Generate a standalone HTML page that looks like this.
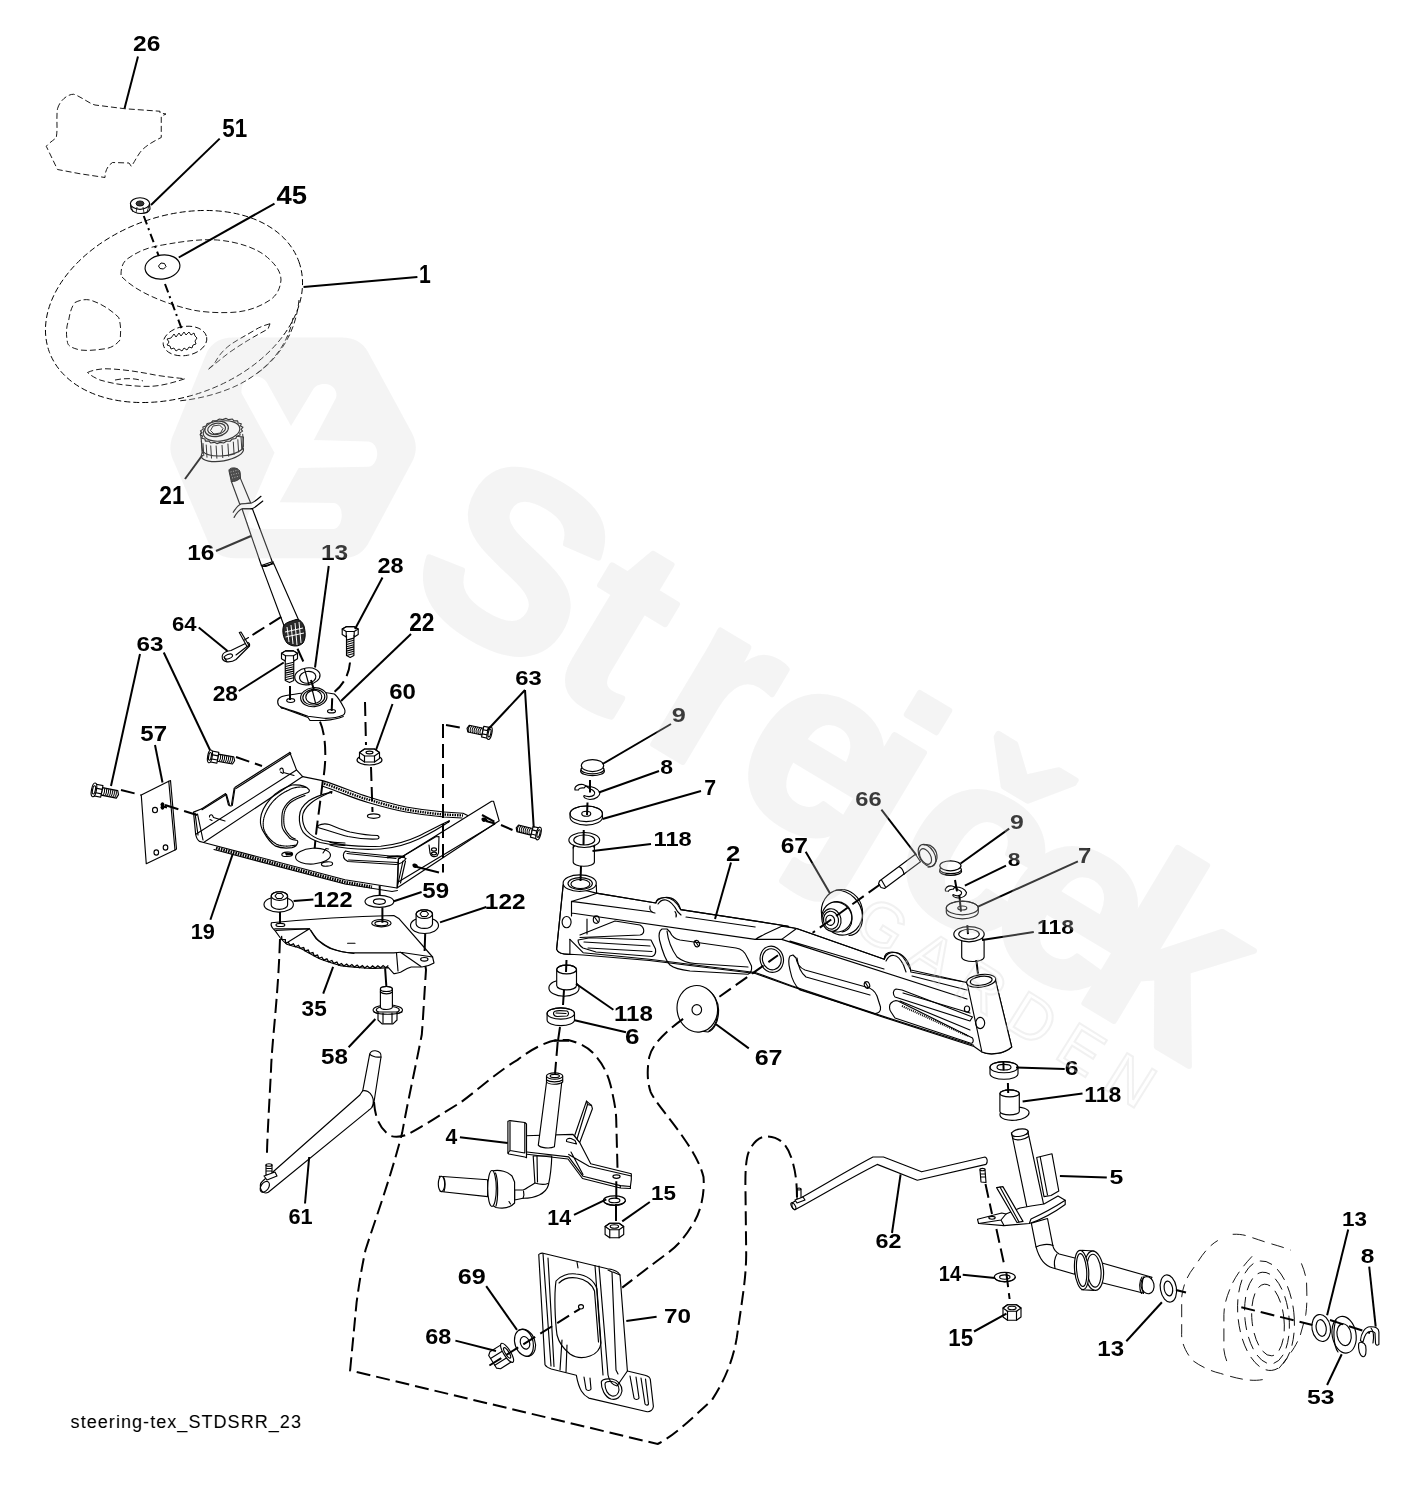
<!DOCTYPE html>
<html><head><meta charset="utf-8"><title>steering-tex_STDSRR_23</title>
<style>
html,body{margin:0;padding:0;background:#fff;}
body{width:1420px;height:1487px;overflow:hidden;}
svg{display:block;filter:grayscale(1);}
.p{fill:none;stroke:#000;stroke-width:1.15;stroke-linejoin:round;stroke-linecap:round;}
.pf{fill:#fff;stroke:#000;stroke-width:1.15;stroke-linejoin:round;stroke-linecap:round;}
.th{fill:none;stroke:#000;stroke-width:0.9;stroke-dasharray:6 3;}
.th2{fill:none;stroke:#000;stroke-width:0.9;stroke-dasharray:13 7;}
.d{fill:none;stroke:#000;stroke-width:2;stroke-dasharray:14 6;}
.l{fill:none;stroke:#000;stroke-width:2;stroke-linecap:butt;}
.lab text{font-family:"Liberation Sans",sans-serif;font-weight:bold;fill:#000;}
</style></head>
<body>
<svg width="1420" height="1487" viewBox="0 0 1420 1487">
<rect width="1420" height="1487" fill="#fff"/>
<g id="parts">
<!-- part 26 decal -->
<path class="th" d="M57.5,108.75 C60,100 68,94 73.75,94.25 C82,97 88,103 95,105 L125,108.75 L160,111.25 L160,113 L166,114 L161.25,116.25 L161.25,137.5 C152,142 144,147 140,152.5 C136,158 134,163 131.25,166.25 L129,163 L112.5,162.5 C107,166 105,172 105,177.5 L80,173.75 L57.5,169.5 L46.25,146.25 C50,142 54,140 56.25,137.5 C58,128 56,118 57.5,108.75 Z"/>
<!-- steering wheel outer -->
<ellipse class="th" cx="174" cy="306.5" rx="132.7" ry="90.2" transform="rotate(-19.8 174 306.5)"/>
<path class="th" d="M293,318 C288,345 270,368 240,384 C222,393 200,399 178,401"/>
<path class="th" d="M299,300 C296,330 282,356 255,375"/>
<!-- hub area -->
<path class="th" d="M121,275 C121,267 123,262 127.5,258.75 C140,250 150,247 162.5,245 C185,241 200,239 217.5,240 C240,242 258,249 267.5,257.5 C276,265 281,272 281,280 C280,290 276,296 270,300 C258,308 245,312 230,312.5 C215,313 203,312 192.5,310 C180,307 170,304 160,300 C145,294 132,287 122,277"/>
<!-- left opening -->
<path class="th" d="M75,302.5 C80,300 85,299 90,300 C100,303 110,309 118.75,317.5 C121,325 121,333 120,340 C116,345 111,348 105,348.75 C96,350 88,351 80,350 C72,348 68,346 67.5,342.5 C66,335 66,327 68.75,320 C70,312 72,306 75,302.5 Z"/>
<!-- bottom opening -->
<path class="th" d="M87.5,372.5 C93,370 99,369 105,368.75 C122,369 140,372 155,375 C167,377 178,378 185,378.75 C175,382 165,385 155,386 C145,387 135,386 125,385 C115,384 107,382 100,380 C95,378 90,375 87.5,372.5 Z"/>
<path class="th" d="M115,380 C125,378 135,378 143,381"/>
<!-- right opening -->
<path class="th" d="M270,323.75 C262,326 258,328 255,330 C245,336 237,340 230,345 C222,351 218,357 215,362.5 C212,366 210,368 207.5,370 C215,364 222,358 230,352 C243,343 255,336 268,329 Z"/>
<!-- center spline hub -->
<ellipse class="th" cx="185" cy="341" rx="22" ry="14.5" transform="rotate(-10 185 341)"/>
<path fill="none" stroke="#000" stroke-width="0.9" d="M171,338 l3,-4 l2,3 l3,-4 l2,3 l3,-4 l2,3 l3,-3 l2,3 l3,-2 l1,3 l2,2 l-2,3 l1,3 l-3,1 l-1,3 l-3,-1 l-2,3 l-3,-2 l-2,3 l-3,-2 l-3,2 l-2,-3 l-3,1 l-1,-3 l-3,-1 l2,-3 l-2,-3 z"/>
<!-- washer 45 -->
<ellipse class="pf" cx="162.5" cy="267" rx="17.5" ry="12" transform="rotate(-8 162.5 267)"/>
<path fill="none" stroke="#000" stroke-width="1" d="M158.5,266 l2.5,-3 l3.5,0.5 l1.5,3 l-2.5,2.5 l-3.5,-0.5 z"/>
<!-- nut 51 -->
<path class="pf" d="M130.5,203.5 L131,209 C133,212 137,213.5 141,213.5 C145,213.5 149,212 150,209 L149.5,203.5 Z"/>
<ellipse class="pf" cx="140" cy="203.5" rx="9.6" ry="5.8"/>
<path fill="none" stroke="#000" stroke-width="0.8" d="M131,206 L133,212 M149,206 L147,212 M136,213 L137,207 M144,213 L143,207"/>
<ellipse cx="140" cy="203.5" rx="4" ry="2.6" fill="#333" stroke="#000" stroke-width="0.8"/>
<!-- part 21 knurled cap -->
<ellipse class="pf" cx="222.4" cy="452.6" rx="21.4" ry="8.4" transform="rotate(-10 222.4 452.6)" />
<path class="pf" d="M200.5,433 L202.5,451 C208,458 232,458 242.5,449 L243.5,437 Z"/>
<path fill="none" stroke="#000" stroke-width="1" d="M201.3,440.9 L202.1,453.9 M203.0,443.1 L203.8,456.1 M206.2,444.6 L207.0,457.6 M210.7,445.5 L211.5,458.5 M216.1,445.6 L216.9,458.6 M222.0,445.0 L222.8,458.0 M227.9,443.6 L228.7,456.6 M233.3,441.7 L234.1,454.7 M237.8,439.3 L238.6,452.3 M241.0,436.6 L241.8,449.6 M242.7,433.9 L243.5,446.9 "/>
<path class="pf" stroke-width="1.1" d="M242.97,427.21 L241.1,429.31 L242.57,431.11 L239.78,432.89 L240.11,435 L236.68,436.3 L235.83,438.49 L232.09,439.18 L230.15,441.26 L226.46,441.26 L223.62,443.01 L220.35,442.34 L216.88,443.6 L214.35,442.31 L210.59,442.95 L209.05,441.17 L205.38,441.12 L204.97,439.03 L201.74,438.31 L202.51,436.11 L200.03,434.79 L201.9,432.69 L200.43,430.89 L203.22,429.11 L202.89,427 L206.32,425.7 L207.17,423.51 L210.91,422.82 L212.85,420.74 L216.54,420.74 L219.38,418.99 L222.65,419.66 L226.12,418.4 L228.65,419.69 L232.41,419.05 L233.95,420.83 L237.62,420.88 L238.03,422.97 L241.26,423.69 L240.49,425.89 Z" />
<ellipse class="p" cx="221.5" cy="431" rx="18.5" ry="9.8" transform="rotate(-10 221.5 431)" />
<ellipse class="pf" cx="216.6" cy="428.9" rx="11.9" ry="7.6" transform="rotate(-10 216.6 428.9)" />
<ellipse class="p" cx="216.6" cy="428.9" rx="9" ry="5.6" transform="rotate(-10 216.6 428.9)" />
<path fill="none" stroke="#000" stroke-width="1" d="M210.5,430.5 l2.5,-4.5 l6.5,-1 l3.5,3.5 l-2.5,4.5 l-6.5,1 z"/>
<path class="pf" d="M231.3,481.2 L239.8,504.3 L250.6,502.8 L240.2,477.9 Z"/>
<path class="pf" d="M242.1,509 L261.4,565.5 L272.3,561.7 L252.5,509 Z"/>
<path class="pf" d="M261.9,566.4 L284.5,627 L299.5,622 L273.7,563.6 Z"/>
<path class="p" d="M261.4,565.5 C264,567.5 269,566.5 273.5,562"/>
<path d="M229,471 C228.5,468.5 232,467.5 235,468 C238,468.5 240,470 240.2,473 L240.5,478 C238,480.5 234,482 231.3,481.5 Z" fill="#1a1a1a" stroke="#000" stroke-width="1"/>
<path fill="none" stroke="#fff" stroke-width="0.6" stroke-dasharray="1 1.5" d="M230.5,472 L238.5,470 M231,475 L239,473 M232,478 L239.5,476"/>
<path fill="#fff" stroke="none" d="M233.2,512.3 C236,508 238,505 241,504 L251,503.3 C254,502 258,499 261,496.3 L262.8,501 C259,504 256,507 252.5,508.5 L242.6,508.5 C239,510 236,514 234.1,517.4 Z"/>
<path class="p" d="M233.2,512.3 C236,508 238,505 241,504 L251,503.3 C254,502 258,499 261,496.3 M234.1,517.4 C236,514 239,510 242.6,508.5 L252.5,508.5 C256,507 259,504 262.8,501"/>
<path d="M283.5,626 C282,631 283,638 287,643 C292,647 299,647 303,643 C306,638 305.5,632 304,626 C302,621 299,619 296,619.5 L290,621.5 C287,622.5 284.5,624 283.5,626 Z" fill="#2a2a2a" stroke="#000" stroke-width="1"/>
<path fill="none" stroke="#fff" stroke-width="1" d="M287,627 L289,642 M291,625 L293,644 M295,623 L297,645 M299,622 L301,643 M285,632 L303,628 M285.5,637 L304,633"/>
<ellipse class="pf" cx="307.4" cy="676.3" rx="12.7" ry="8.4" transform="rotate(-8 307.4 676.3)" />
<ellipse class="p" cx="307.7" cy="677.3" rx="8.2" ry="5.9" transform="rotate(-8 307.7 677.3)" />
<path class="p" d="M304.5,669 L309,685" stroke-width="1.4"/>
<path class="pf" d="M280.5,697.2 C283,695.5 295,694 303.7,693 C315,691 325,692 334.4,694 C338,697 341,702 344.4,708.8 C345.5,711 345,714 343.3,715.1 C338,717.5 330,718.5 323.8,718.3 L308,716.2 C298,713 288,709 280.5,706.7 C277,705 276.5,699 280.5,697.2 Z"/>
<path class="p" d="M280.5,706.7 C281,708 282,708.5 283.7,708.5 L308,717.5 L310,720.5 L324.9,720.4 C330,720 337,719 343.3,716.5"/>
<ellipse class="pf" cx="313.8" cy="697.2" rx="13.2" ry="9.5" transform="rotate(-5 313.8 697.2)" />
<ellipse class="p" cx="313.8" cy="697.2" rx="11" ry="7.8" transform="rotate(-5 313.8 697.2)" />
<ellipse class="p" cx="313.8" cy="696.9" rx="8" ry="6.6" transform="rotate(-5 313.8 696.9)" />
<path class="p" d="M312,689 L315.5,703" stroke-width="1.4"/>
<ellipse class="p" cx="290.7" cy="700.6" rx="4" ry="1.9" />
<ellipse class="p" cx="331.5" cy="711.2" rx="4" ry="1.7" />
<path class="l" d="M332.2,698.2 L331.7,711"/>
<path class="pf" d="M297.5,653.3 L293.5,650.88 L285.5,650.88 L281.5,653.3 L281.5,658.8 L285.5,661.22 L293.5,661.22 L297.5,658.8 Z"/><path class="p" d="M297.5,653.3 L293.5,655.72 L285.5,655.72 L281.5,653.3 L285.5,650.88 L293.5,650.88 Z"/><path class="p" d="M293.5,655.72 L293.5,661.22"/><path class="p" d="M285.5,655.72 L285.5,661.22"/><path class="pf" d="M285.25,659.6 L285.25,680.6 L289.5,682.6 L293.75,680.6 L293.75,659.6"/><path fill="none" stroke="#000" stroke-width="1.1" d="M285.25,664.3 L293.75,662.3 M285.25,666.5 L293.75,664.5 M285.25,668.7 L293.75,666.7 M285.25,670.9 L293.75,668.9 M285.25,673.1 L293.75,671.1 M285.25,675.3 L293.75,673.3 M285.25,677.5 L293.75,675.5 M285.25,679.7 L293.75,677.7 "/>
<path class="pf" d="M358.2,629.1 L354.2,626.68 L346.2,626.68 L342.2,629.1 L342.2,634.6 L346.2,637.02 L354.2,637.02 L358.2,634.6 Z"/><path class="p" d="M358.2,629.1 L354.2,631.52 L346.2,631.52 L342.2,629.1 L346.2,626.68 L354.2,626.68 Z"/><path class="p" d="M354.2,631.52 L354.2,637.02"/><path class="p" d="M346.2,631.52 L346.2,637.02"/><path class="pf" d="M346.5,635.4 L346.5,655.4 L350.2,657.4 L353.9,655.4 L353.9,635.4"/><path fill="none" stroke="#000" stroke-width="1.1" d="M346.5,640.1 L353.9,638.1 M346.5,642.3 L353.9,640.3 M346.5,644.5 L353.9,642.5 M346.5,646.7 L353.9,644.7 M346.5,648.9 L353.9,646.9 M346.5,651.1 L353.9,649.1 M346.5,653.3 L353.9,651.3 M346.5,655.5 L353.9,653.5 "/>
<path class="pf" d="M223,654 C221,657 222,661 227,661.8 C230,662 234,661 236,659.5 L249.5,646 C250,644 249,642.5 247.5,642.5 L231,650.5 C227,651 224.5,652 223,654 Z"/>
<ellipse class="p" cx="228.5" cy="656.5" rx="4.2" ry="2.2" transform="rotate(-20 228.5 656.5)" />
<path class="p" d="M224,657 L227,662 M236,655 L249,645"/>
<path class="pf" d="M239.3,632.5 L241,632 L249,645.5 L247,646.5 Z"/>
<path class="p" d="M244.5,640 L248.5,637.5"/>
<path fill="#fff" stroke="none" d="M193.5,812.1 L201.9,808.7 L289.8,752.4 L296.5,769.9 L302.7,776.6 L330,781.5 L368,796.8 L406,807 L444,812 L468.2,815.8 L491.6,801.2 L493.5,801.2 L499.2,820.8 L397,888 L345,879.7 L203.6,842.5 L199.6,841.4 L195.7,834.6 Z"/>
<path class="p" d="M201.9,808.7 L225.6,793.5 L228.4,804.8 C229,806 231.5,806.2 232.3,805.4 L235.1,787.3 L289.8,752.4 L296.5,769.9 L302.7,776.6"/>
<path class="p" d="M226.5,794.5 L229.4,804.5 M234.2,788 L231.5,804.5"/>
<path class="p" d="M289.8,752.4 L290.8,753.6 L236,788.4 M202,809.7 L226.4,794.5" stroke-width="0.8"/>
<path class="p" d="M201.9,808.7 L193.5,812.1 L195.7,834.6 C196.5,838 198,840.5 199.6,841.4 L203.6,842.5"/>
<path class="p" d="M196.3,834.1 L296.5,769.9"/>
<path class="p" d="M203.6,842.5 L302.7,776.6"/>
<path class="p" d="M195,813 L198,835 M197.5,814 L203,840" stroke-width="0.8"/>
<path class="p" d="M203.6,842.5 L345,879.7 L397,888"/>
<path fill="none" stroke="#000" stroke-width="3.2" stroke-dasharray="1.6 0.9" d="M216,848 L345,882.3 L372,887"/>
<path class="p" d="M214,849.5 L345,884 L392,891.5 L397.5,890.5" stroke-width="0.9"/>
<path class="p" d="M302.7,776.6 L322.5,780.6 C340,786 355,793 368,796.8 C385,802 395,805 406,807 C420,809.5 432,811 444,812 L463,813.2 L468.2,815.8"/>
<path fill="none" stroke="#000" stroke-width="2.4" stroke-dasharray="1.5 1" d="M324,783.5 C340,789 355,796 368,799.5 C385,804.5 395,807.5 406,809.5 C420,812 432,813.5 444,814.5 L463,815.5"/>
<path class="p" d="M322,786 C340,792 355,799 368,802.5 C385,807.5 395,810 406,812 C420,814.5 432,816 444,817 L462,818" stroke-width="0.9"/>
<path class="pf" d="M398.4,858.9 L491.6,801.2 L493.5,801.2 L499.2,820.8 L397,888 Z"/>
<path class="p" d="M398.6,881.7 L494.8,824 M437,836 L398.4,858.9 M398.4,858.9 L397.5,887"/>
<path fill="#000" d="M481.5,818.5 C481,820.5 483,822.5 485,821.8 L488,821 L487,819 C485.5,817.5 482.5,817 481.5,818.5 Z"/>
<path class="l" d="M486,821 L495,823.5" stroke-width="1.4"/>
<path fill="#000" d="M412.4,864.5 C412,866.5 414,868.5 416,868 L418.5,867.5 L417.5,865 C416,863.5 413.5,863 412.4,864.5 Z"/>
<path class="l" d="M417,867 L439,872.5" stroke-width="1.4"/>
<path class="p" d="M209.5,817 C209,815 211.5,814 212.5,815.5 L213.5,817.5 L225,821 M210,819.5 L212,820.5" stroke-width="1.3"/>
<path class="p" d="M280,770 C279.5,768 282,767.5 283,769 L283.5,772.5 L294,775.5 M280.5,772 L283,773.5" stroke-width="1.3"/>
<path class="p" d="M309,789.6 C306,786 299,784.5 292,785 C283,788 276,792 270.6,798.6 C265,805 261,811 260.5,818.9 C260,825 261.5,829 263.9,832.4 C267,838 271,843 275.1,845.9 C280,848 286,848.5 292,847.6 C295,847 297,845 297.7,842.5 C298,840.5 297,840 296,840.3 C292,839.5 289.5,838.5 288.7,836.9 C284,832 282,829 281.9,825.6 C281.5,818 282,813 283,809.9 C286,804 289,801 293.2,798.6 C298,796 302,794.5 306.7,793 C309,792.5 310,791 309,789.6 Z"/>
<path class="p" d="M306.5,787.5 C300,786.5 294,787 289,790 C280,794 273,800 268.5,807.5 C264,815 262.5,821 263.5,828 C265,834 270,840.5 277,844.5 C283,846.5 289,846.5 295.5,845" stroke-width="0.8" stroke-dasharray="1.2 0.8"/>
<path class="p" d="M305,795.5 C299,797.5 294,800 290,803 C286,807 284,811 283.8,818 C283.5,826 285,830 289,834.5 C291,837 293,838.5 295.5,839" stroke-width="0.8" stroke-dasharray="1.2 0.8"/>
<path class="p" d="M330.4,792.4 C320,795 314,797.5 308.9,800.8 C302,806 299.5,811 299.4,816.6 C299,823 300.5,828 303.3,832.4 C308,838 314,840.5 320.2,842.5 C330,845 338,845.5 345,845.4"/>
<path class="p" d="M331.5,791.8 C321,796.5 315,799.5 311,803 C305,808 302.5,812 302.5,817 C302.5,823 304,827 306.5,830.5 C311,836 317,839 323,840.5 C332,842.5 339,843 345,843" stroke-width="1.6"/>
<path class="p" d="M329.5,792 L332,791.5 L331.5,793.3 Z"/>
<path class="p" d="M318,825.6 C322,823.5 326,823.5 329.2,824.5 C336,827 342,830 350,832 C362,834.5 370,835.5 377.5,835.5 C379.5,836.5 379.5,838.5 377.5,839 C368,839.5 358,838.5 348,836.5 C338,834 327,830 318,827.5 Z"/>
<path class="p" d="M330,842.4 C345,846 362,847 380.7,846.2 C395,845 408,841 418.7,836 C430,830.5 440,825 449.2,820.8"/>
<path class="p" d="M330,845 C345,849 362,850 380.7,849 C395,848 408,844 418.7,839 C430,833.5 440,828 449.2,821.5" stroke-width="1.6"/>
<path class="p" d="M449.2,820.8 L448.5,822.3"/>
<path class="p" d="M345.5,851 C343,853 342.5,857 345,859.5 L348,861.5 L396,864.5 C400,864 404,861.5 406,858.5 C404,857.5 399,856.5 395,856.5 L350,852 Z"/>
<path class="p" d="M347,853.5 L396,858.5 M348.5,860 L398,862.5" stroke-width="0.9"/>
<path fill="none" stroke="#000" stroke-width="2" d="M387,857.5 C393,856 398,855.5 405,857"/>
<path class="p" d="M403,861 L397.8,884.5 M405.5,861 L400.5,883" stroke-width="0.9"/>
<path class="pf" d="M429,845 L430,853 C431,856.5 434,857.5 437,856 L438.5,853 L439,836.5 L437,836.8"/>
<ellipse class="p" cx="434" cy="849.5" rx="2.5" ry="1.6" />
<ellipse class="p" cx="434" cy="853.5" rx="2.5" ry="1.4" />
<ellipse class="p" cx="313" cy="856.1" rx="17.5" ry="7.9" transform="rotate(-4 313 856.1)" />
<path class="p" d="M323,853 L326,848.5 L328.5,849" stroke-width="1.6"/>
<ellipse class="p" cx="287.2" cy="854.3" rx="5.4" ry="2.2" transform="rotate(-4 287.2 854.3)" />
<path fill="#000" d="M285,853 L292,852.6 L292,855 L286,855.5 Z"/>
<ellipse class="p" cx="327" cy="864" rx="5.6" ry="2.2" transform="rotate(-4 327 864)" />
<ellipse class="p" cx="373.7" cy="816.1" rx="6.3" ry="2.2" />
<path class="pf" d="M141.25,795 L168.75,781.25 L175,850 L146.25,863.75 Z"/>
<path class="p" d="M168.75,781.25 L170.5,780.5 L176.5,849 L175,850"/>
<ellipse class="p" cx="155" cy="810" rx="2.5" ry="2.7" />
<path fill="#000" d="M161,806 a2,2.2 0 1,0 3,0 a2,2.2 0 1,0 -3,0"/>
<ellipse class="p" cx="156.3" cy="852.5" rx="2.3" ry="2.6" />
<ellipse class="p" cx="165.5" cy="847.5" rx="2.3" ry="2.6" />
<path class="l" d="M163.5,806.5 L167,807.5" stroke-width="1.4"/>
<g transform="translate(92,789.5) rotate(11)"><path class="pf" d="M10,-3.8 L25.5,-3.8 L27,0 L25.5,3.8 L10,3.8 Z"/><path fill="none" stroke="#000" stroke-width="1" d="M11.5,-3.8 C13.1,-1.9 13.1,1.9 11.5,3.8 M13.5,-3.8 C15.1,-1.9 15.1,1.9 13.5,3.8 M15.5,-3.8 C17.1,-1.9 17.1,1.9 15.5,3.8 M17.5,-3.8 C19.1,-1.9 19.1,1.9 17.5,3.8 M19.5,-3.8 C21.1,-1.9 21.1,1.9 19.5,3.8 M21.5,-3.8 C23.1,-1.9 23.1,1.9 21.5,3.8 M23.5,-3.8 C25.1,-1.9 25.1,1.9 23.5,3.8 "/><path class="pf" d="M2,-5.95 L10,-5.95 L10,5.95 L2,5.95 Z"/><path class="p" d="M2,-2.1 L10,-2.1 M2,2.45 L10,2.45"/><ellipse class="pf" cx="2" cy="0" rx="2.45" ry="7"/><ellipse class="p" cx="2" cy="0" rx="1.4" ry="4.2"/></g>
<g transform="translate(208,756) rotate(10)"><path class="pf" d="M10,-3.6 L25.5,-3.6 L27,0 L25.5,3.6 L10,3.6 Z"/><path fill="none" stroke="#000" stroke-width="1" d="M11.5,-3.6 C13.1,-1.8 13.1,1.8 11.5,3.6 M13.5,-3.6 C15.1,-1.8 15.1,1.8 13.5,3.6 M15.5,-3.6 C17.1,-1.8 17.1,1.8 15.5,3.6 M17.5,-3.6 C19.1,-1.8 19.1,1.8 17.5,3.6 M19.5,-3.6 C21.1,-1.8 21.1,1.8 19.5,3.6 M21.5,-3.6 C23.1,-1.8 23.1,1.8 21.5,3.6 M23.5,-3.6 C25.1,-1.8 25.1,1.8 23.5,3.6 "/><path class="pf" d="M2,-5.52 L10,-5.52 L10,5.52 L2,5.52 Z"/><path class="p" d="M2,-1.95 L10,-1.95 M2,2.27 L10,2.27"/><ellipse class="pf" cx="2" cy="0" rx="2.27" ry="6.5"/><ellipse class="p" cx="2" cy="0" rx="1.3" ry="3.9"/></g>
<g transform="translate(491.5,733.5) rotate(12) scale(-1,1)"><path class="pf" d="M9,-3.4 L23.5,-3.4 L25,0 L23.5,3.4 L9,3.4 Z"/><path fill="none" stroke="#000" stroke-width="1" d="M10.5,-3.4 C12.1,-1.7 12.1,1.7 10.5,3.4 M12.5,-3.4 C14.1,-1.7 14.1,1.7 12.5,3.4 M14.5,-3.4 C16.1,-1.7 16.1,1.7 14.5,3.4 M16.5,-3.4 C18.1,-1.7 18.1,1.7 16.5,3.4 M18.5,-3.4 C20.1,-1.7 20.1,1.7 18.5,3.4 M20.5,-3.4 C22.1,-1.7 22.1,1.7 20.5,3.4 M22.5,-3.4 C24.1,-1.7 24.1,1.7 22.5,3.4 "/><path class="pf" d="M2,-5.52 L9,-5.52 L9,5.52 L2,5.52 Z"/><path class="p" d="M2,-1.95 L9,-1.95 M2,2.27 L9,2.27"/><ellipse class="pf" cx="2" cy="0" rx="2.27" ry="6.5"/><ellipse class="p" cx="2" cy="0" rx="1.3" ry="3.9"/></g>
<g transform="translate(540.5,834) rotate(14) scale(-1,1)"><path class="pf" d="M9,-3.4 L23.5,-3.4 L25,0 L23.5,3.4 L9,3.4 Z"/><path fill="none" stroke="#000" stroke-width="1" d="M10.5,-3.4 C12.1,-1.7 12.1,1.7 10.5,3.4 M12.5,-3.4 C14.1,-1.7 14.1,1.7 12.5,3.4 M14.5,-3.4 C16.1,-1.7 16.1,1.7 14.5,3.4 M16.5,-3.4 C18.1,-1.7 18.1,1.7 16.5,3.4 M18.5,-3.4 C20.1,-1.7 20.1,1.7 18.5,3.4 M20.5,-3.4 C22.1,-1.7 22.1,1.7 20.5,3.4 M22.5,-3.4 C24.1,-1.7 24.1,1.7 22.5,3.4 "/><path class="pf" d="M2,-5.52 L9,-5.52 L9,5.52 L2,5.52 Z"/><path class="p" d="M2,-1.95 L9,-1.95 M2,2.27 L9,2.27"/><ellipse class="pf" cx="2" cy="0" rx="2.27" ry="6.5"/><ellipse class="p" cx="2" cy="0" rx="1.3" ry="3.9"/></g>
<ellipse class="pf" cx="369.5" cy="760" rx="12.5" ry="5" />
<path class="pf" d="M379.5,752.5 L374.5,749.04 L364.5,749.04 L359.5,752.5 L359.5,758.5 L364.5,761.96 L374.5,761.96 L379.5,758.5 Z"/><path class="p" d="M379.5,752.5 L374.5,755.96 L364.5,755.96 L359.5,752.5 L364.5,749.04 L374.5,749.04 Z"/><path class="p" d="M374.5,755.96 L374.5,761.96"/><path class="p" d="M364.5,755.96 L364.5,761.96"/><ellipse class="p" cx="369.5" cy="752.5" rx="3.5" ry="1.4" />
<ellipse class="pf" cx="278.7" cy="904.4" rx="14.7" ry="7.7" />
<path class="pf" d="M271.2,896 L271.2,905 A8.2,4.3 0 0 0 287.6,905 L287.6,896 A8.2,4.3 0 0 0 271.2,896 Z"/><ellipse class="p" cx="279.4" cy="896" rx="8.2" ry="4.3" />
<path class="p" d="M275,896 l2,-2.5 l4.5,0 l2,2.5 l-2,2.5 l-4.5,0 z"/>
<ellipse class="pf" cx="424.5" cy="925.5" rx="14" ry="8" />
<path class="pf" d="M416.1,914.1 L416.1,924.1 A8.2,4.3 0 0 0 432.5,924.1 L432.5,914.1 A8.2,4.3 0 0 0 416.1,914.1 Z"/><ellipse class="p" cx="424.3" cy="914.1" rx="8.2" ry="4.3" />
<path class="p" d="M420,914 l2,-2.5 l4.5,0 l2,2.5 l-2,2.5 l-4.5,0 z"/>
<ellipse class="pf" cx="379.4" cy="901.4" rx="14.4" ry="6" />
<ellipse class="p" cx="379.4" cy="901.6" rx="6" ry="2.7" />
<path class="pf" d="M271.4,922.8 C310,919 350,916.5 393.8,915.5 L399.2,918.8 L432.6,957 L434,963 C430,965.5 426,966.5 421.9,967 L411.2,967 C406,968.5 403,971 400.5,972.3 C397,973.5 395,973.5 393.8,973.7 L388.4,967.6 C380,968.5 373,968.5 367,968.3 C358,967.5 349,967 340.3,965.6 C333,963.5 326,961.5 320.2,959 C312,955 306,951 300.1,948.2 C295,946.5 290,945.5 286.8,944.2 C284,942 282,940 280,937.5 L274.7,930.2 C272,928 270.5,925.5 271.4,922.8 Z"/>
<path fill="none" stroke="#000" stroke-width="1.3" d="M388.33,965.4 L385.77,967.69 L383.07,965.57 L380.52,967.86 L377.82,965.74 L375.26,968.03 L372.57,965.92 L370.01,968.2 L367.31,966.09 L364.77,968.07 L362.37,965.62 L359.54,967.55 L357.14,965.09 L354.31,967.02 L351.91,964.56 L349.07,966.49 L346.68,964.03 L343.84,965.96 L341.45,963.51 L338.69,965.07 L336.88,962.16 L333.7,963.43 L331.88,960.52 L328.7,961.79 L326.89,958.88 L323.71,960.15 L321.89,957.24 L318.82,958.26 L317.55,955.08 L314.19,955.77 L312.91,952.59 L309.56,953.28 L308.28,950.1 L304.93,950.79 L303.65,947.61 L300.3,948.31 L298.43,945.4 L295.28,946.75 L293.39,943.89 L290.24,945.24 L288.36,942.37 L285.62,943.03 L285.29,939.62 L281.87,939.34 L281.54,935.93"/>
<path class="p" d="M274.7,928.8 L309.5,928.8 C312,933 314,936 316.2,938.9 C320,942.5 325,946 329.6,948.2 C337,951 345,952.5 353.7,952.9 L393.8,952.9 L400.5,952.3"/>
<path class="p" d="M311,930.5 C313.5,934.5 316,938 318.5,940.5 C323,944 327,946.5 331.5,948.5 C338,951 346,952.8 354,953.5" stroke-width="0.8"/>
<path class="p" d="M276,930.5 L309.5,928.8 L286.5,943"/>
<path class="p" d="M396.5,953 L398,971 M400.5,952.3 L421,966.5 M400.5,952.3 L432.6,957"/>
<ellipse class="p" cx="280.4" cy="924.9" rx="4.4" ry="1.6" />
<ellipse class="p" cx="381.4" cy="923.2" rx="9.7" ry="3.7" />
<ellipse class="p" cx="381.4" cy="923.4" rx="6.5" ry="2.3" />
<ellipse class="p" cx="424.3" cy="959.3" rx="3.7" ry="1.8" />
<path class="p" d="M347.6,943.2 L355,943.2" stroke-width="1.6"/>
<path class="l" d="M379.7,885.4 L379.7,896 M382.4,907.4 L382.4,922.8 M425.2,933.5 L424.6,951 M385.1,968.3 L386.4,987" stroke-width="1.6"/>
<path class="l" d="M280,912 L280,923" stroke-width="1.6"/>
<ellipse class="pf" cx="387.8" cy="1010" rx="14.7" ry="5" />
<ellipse class="p" cx="387.8" cy="1010" rx="11.5" ry="3.8" />
<path class="pf" d="M378,1012 L378,1020 L382,1023.8 L393,1023.8 L397,1020 L397,1012 Z"/>
<path class="p" d="M383,1013 L383,1023 M392,1013 L392,1023"/>
<path class="p" d="M374,1012 C380,1015 395,1015 402,1012" stroke-width="1.8"/>
<path class="pf" d="M380.4,989 L380.4,1007 A6,2.5 0 0 0 392.4,1007 L392.4,989 A6,2.5 0 0 0 380.4,989 Z"/><ellipse class="p" cx="386.4" cy="989" rx="6" ry="2.5" />
<path class="p" d="M380.4,992 C383,994.5 390,994.5 392.4,992"/>
<path class="pf" d="M563.2,884.8 L556.6,949.4 C558,953 563,954.5 569.9,954.3 L583.1,955 L649.3,960.5 L755.2,973.5 L791.6,986.5 L881,1016.5 L974,1046.5 L981.9,1052 C990,1055.5 1004,1054 1011.7,1047 L995.2,979.2 L967,982.5 L910.8,972 C911,966 906,956 898,953 C890,951 885,955 884.3,959.3 L796.6,928.5 L781.7,925.5 L788.3,926.2 L680.7,909.6 C678,901 672,897 665,897.5 C659,898 656,901 655.9,903 L596.3,893.1 Z"/>
<ellipse class="pf" cx="579.7" cy="883.2" rx="16.6" ry="8.3" />
<ellipse class="p" cx="580.2" cy="883.6" rx="12.2" ry="6" />
<ellipse class="p" cx="580.4" cy="884" rx="9.5" ry="4.5" />
<path class="p" d="M563.2,884.8 L556.6,949.4 C558,953 563,954.5 569.9,954.3"/>
<path class="p" d="M596.3,885 L596.6,893.4"/>
<ellipse class="p" cx="566.6" cy="922.1" rx="4.5" ry="5.6" stroke-width="2.2"/>
<path class="p" d="M596.3,893.1 L655.9,903 C656,900 659,897.5 665,897.5 C671,897.5 676,901 680.7,909.6 L788.3,926.2"/>
<path class="p" d="M658,904 C660,901 663,899.5 666,900 C670,901 674,905 677.5,911.5 L681,915"/>
<path class="p" d="M571.5,901.4 L573,901 C580,899 590,896 596.3,893.5 M571.5,901.4 L571.5,913 L755.2,939.4 M571.5,901.4 L652,912 M686,917 L755.2,927 M571.5,913 L571.5,916"/>
<path class="p" d="M650,906 C649,910 652,913 655,913 M675,911.5 C676,913 677,915 676,917"/>
<path class="p" d="M755.2,939.4 C760,936 762,936 765,934 L781.7,926.2 L796.6,928.5 L781.7,939.4 Z"/>
<path class="p" d="M796.6,928.5 L884.3,959.3 C884,955 887,952 892,952 C897,952 902,955 905,960 L910.8,970 L967,982.5"/>
<path class="p" d="M886,961 C888,957 891,955 894,955.5 C898,956 901,960 903.5,965 L906,972"/>
<path class="p" d="M781.7,939.4 L967,999 M790,941 L884,969 M912,976 L967,990"/>
<path class="p" d="M569.9,939.4 L583.1,952.7 L649.3,959.3 L755.2,972.5 L791.6,985.8 L881,1015.6 L973.7,1045.3" stroke-width="1.3"/>
<path class="p" d="M569.9,939.4 L569.9,954.3"/>
<path class="p" d="M578.1,940 C578,944 580,946 583,948 L596,952 L652,956.5 C655,955.5 656,952 655.5,949 L651,940 L590,937.8 Z"/>
<path class="p" d="M584,942 L650,946 M588,948 L652,951.5" stroke-width="0.8"/>
<path class="p" d="M580,935 L615,921 L640,925 C645,928 645,934 640,935 L580,937.5"/>
<path class="p" d="M587,919 L587,934" />
<ellipse class="p" cx="596.3" cy="919.6" rx="3" ry="3.8" />
<path class="p" d="M594.5,917 L598,922"/>
<path class="p" d="M662,929 C659,931 658.5,935 659.5,940 C662,950 665,960 670,965 C675,969 682,970 690,971 L748,974.2 C751,973 752,970 751.5,966 L747,957 C745,952 742,949 736,948 L680,940 C675,939 672,937 670,932 L667,929 Z"/>
<path class="p" d="M667,931 C668,940 672,950 677,957 C682,961 688,963 695,963.5 L748,967" stroke-width="0.9"/>
<ellipse class="p" cx="696.8" cy="943.6" rx="2.6" ry="3.3" transform="rotate(-20 696.8 943.6)" />
<path class="p" d="M695,941 L698.5,946"/>
<ellipse class="pf" cx="771.8" cy="959.3" rx="11.6" ry="13.2" transform="rotate(-15 771.8 959.3)" />
<ellipse class="p" cx="771.8" cy="959.3" rx="9.3" ry="10.6" transform="rotate(-15 771.8 959.3)" />
<path class="p" d="M790,956 C788,959 788.5,964 790,970 C792,980 795,986 800,990 L874,1013.5 C879,1014 881,1011 880.5,1007 L877,996 C875,991 871,988 866,987 L805,970 C800,968 797,964 796,958 L793,955 Z"/>
<path class="p" d="M797,958 C798,966 801,973 806,977 L870,995" stroke-width="0.9"/>
<ellipse class="p" cx="867" cy="985" rx="2.6" ry="3.3" transform="rotate(-20 867 985)" />
<path class="p" d="M865,982 L868.5,987.5"/>
<path class="p" d="M896,989 C893,990 892.5,994 895,997 L970,1021 L972.5,1017 L902,990 Z"/>
<path class="p" d="M891,1003 C889,1005 889,1009 891,1012 L895,1018 L970,1043 C973,1044 974,1041 972.5,1038 L898,1001 C895,1000 893,1001 891,1003 Z"/>
<path fill="none" stroke="#000" stroke-width="2" stroke-dasharray="1 1" d="M902,1006 L968,1036"/>
<path class="p" d="M900,1001 L970,1030 M903,993 L970,1013" stroke-width="0.9"/>
<ellipse class="p" cx="967" cy="1009" rx="2.6" ry="3" />
<path class="pf" d="M967,982.5 L981.9,1052 C990,1055.5 1004,1054 1011.7,1047 L995.2,979.2 Z"/>
<ellipse class="pf" cx="981.2" cy="980.8" rx="14.7" ry="6.3" transform="rotate(-8 981.2 980.8)" />
<ellipse class="p" cx="981.2" cy="980.8" rx="11" ry="4.4" transform="rotate(-8 981.2 980.8)" stroke-width="1.8"/>
<ellipse class="p" cx="980.2" cy="1023" rx="4.5" ry="5.6" stroke-width="2.2"/>
<ellipse class="pf" cx="592.5" cy="771.2" rx="11.9" ry="4.4" />
<ellipse class="pf" cx="592.5" cy="769.4" rx="11.5" ry="4.4" />
<ellipse class="pf" cx="592.5" cy="765.6" rx="11.2" ry="6" />
<path class="pf" d="M575,790 C574,786.5 578,784 583,784.5 L586,785.8 L584,788 C581,787.5 578.5,788.5 578.5,790 Z"/>
<path class="pf" d="M586,786 C592,786 598,788.5 600,792.5 C600,796 596,799.5 590,799.5 C585,799 583,797 584,795.5 C587,797 592,797 594,795 C596,793 594,790 590,789 Z"/>
<path class="pf" d="M570.05,813.75 L570.05,817.25 A16.2,7.8 0 0 0 602.45,817.25 L602.45,813.75 A16.2,7.8 0 0 0 570.05,813.75 Z"/><ellipse class="p" cx="586.25" cy="813.75" rx="16.2" ry="7.8" />
<ellipse class="p" cx="586.25" cy="813.75" rx="4.5" ry="2.5" />
<path class="pf" d="M573.2,848 L573.2,862 A10.6,4.2 0 0 0 594.4,862 L594.4,848 A10.6,4.2 0 0 0 573.2,848 Z"/>
<ellipse class="pf" cx="584.25" cy="840" rx="15.4" ry="7.5" />
<ellipse class="p" cx="584.25" cy="840" rx="10.5" ry="5" />
<path class="p" d="M573.5,845 L573.2,848 M594.5,845 L594.5,848"/>
<ellipse class="pf" cx="950.6" cy="871.3" rx="11" ry="4" />
<ellipse class="pf" cx="950.6" cy="869.6" rx="10.8" ry="4" />
<ellipse class="pf" cx="950.4" cy="865.8" rx="10.6" ry="5" />
<path class="pf" d="M945.5,891 C944.5,888 947.5,885.5 952,886 L955,887 L953,889.3 C950.5,889 948.5,890 948.5,891.3 Z"/>
<path class="pf" d="M955,887 C960,887 965,889 966.5,892.5 C966.5,895.5 963,898 958,898 C954,897.5 952,896 953,894.5 C956,896 959.5,896 961,894.5 C962.5,892.5 961,890.5 958,889.7 Z"/>
<path class="pf" d="M946.3,908 L946.3,912 A16,6.8 0 0 0 978.3,912 L978.3,908 A16,6.8 0 0 0 946.3,908 Z"/><ellipse class="p" cx="962.3" cy="908" rx="16" ry="6.8" />
<ellipse class="p" cx="962.3" cy="908" rx="4.5" ry="2" />
<path class="pf" d="M961.7,941 L961.7,957 A11.2,4.5 0 0 0 984.1,957 L984.1,941 A11.2,4.5 0 0 0 961.7,941 Z"/>
<ellipse class="pf" cx="969" cy="934.2" rx="15.2" ry="7.6" />
<ellipse class="p" cx="969" cy="934.2" rx="10.3" ry="5" />
<ellipse class="pf" cx="564" cy="987.9" rx="15.1" ry="8.3" />
<path class="pf" d="M556.7,969.5 L556.7,985.5 A9.9,4.4 0 0 0 576.5,985.5 L576.5,969.5 A9.9,4.4 0 0 0 556.7,969.5 Z"/><ellipse class="p" cx="566.6" cy="969.5" rx="9.9" ry="4.4" />
<path class="pf" d="M547.1,1013.5 L547.1,1020 A13.7,5.6 0 0 0 574.5,1020 L574.5,1013.5 A13.7,5.6 0 0 0 547.1,1013.5 Z"/><ellipse class="p" cx="560.8" cy="1013.5" rx="13.7" ry="5.6" />
<path class="p" d="M553.5,1013.8 C553,1011.5 556,1010.5 560,1010.6 L567,1011 C569,1012 569,1015 567,1016 L557,1016.5 C555,1016.3 553.8,1015 553.5,1013.8 Z"/>
<path class="p" d="M556,1013 L566,1013.5" stroke-width="0.8"/>
<path class="pf" d="M990,1067.2 L990,1073.7 A14,5.6 0 0 0 1018,1073.7 L1018,1067.2 A14,5.6 0 0 0 990,1067.2 Z"/><ellipse class="p" cx="1004" cy="1067.2" rx="14" ry="5.6" />
<ellipse class="p" cx="1004" cy="1067.2" rx="7" ry="2.8" />
<ellipse class="pf" cx="1014.5" cy="1113.8" rx="14.6" ry="6.5" transform="rotate(-5 1014.5 1113.8)" />
<path class="pf" d="M999.9,1093.4 L999.9,1111.4 A9.7,3.5 0 0 0 1019.3,1111.4 L1019.3,1093.4 A9.7,3.5 0 0 0 999.9,1093.4 Z"/><ellipse class="p" cx="1009.6" cy="1093.4" rx="9.7" ry="3.5" />
<ellipse class="pf" cx="842" cy="912.3" rx="20.6" ry="22.8" transform="rotate(-10 842 912.3)" />
<path class="p" d="M836,890 C850,890 862,902 862.5,916 C863,928 857,935 849,935.5" stroke-width="2"/>
<ellipse class="pf" cx="836.9" cy="916.8" rx="15" ry="15.2" transform="rotate(-10 836.9 916.8)" />
<path class="p" d="M834,902 C845,901.5 852,910 852,919 C852,926 848,931 842,932" stroke-width="1.8"/>
<ellipse class="pf" cx="831.5" cy="920" rx="9.5" ry="11.3" transform="rotate(-10 831.5 920)" />
<ellipse class="p" cx="831" cy="920.2" rx="7.5" ry="9" transform="rotate(-10 831 920.2)" />
<ellipse class="p" cx="830.2" cy="920.3" rx="4.4" ry="5.1" transform="rotate(-10 830.2 920.3)" />
<path class="pf" d="M706,989 C714,993 718.6,1002 718.6,1010 C718.6,1022 714,1030 708,1032 L700,1031 L701,988 Z"/>
<path class="p" d="M708,990.5 C715,995 717.5,1003 717.5,1011 C717.5,1021 714,1028 709,1031" stroke-width="1.6"/>
<ellipse class="pf" cx="697.3" cy="1008.8" rx="20.2" ry="23.3" transform="rotate(-8 697.3 1008.8)" />
<ellipse class="p" cx="696.8" cy="1009.8" rx="4.8" ry="5.2" />
<path class="pf" d="M879.5,881 L915.5,854.3 L920.5,861.7 L884.5,888.5 L881,887.5 L878.5,884 Z"/>
<path class="p" d="M881.5,880 L885.5,887 M899.5,867 C902,868 903.5,871 904,874.5"/>
<ellipse class="pf" cx="927" cy="855.5" rx="7.5" ry="12" transform="rotate(-30 927 855.5)" />
<path class="p" d="M924,845 C931,843 937.5,850 937,858 C936.5,864 932,867.5 928,867" stroke-width="2"/>
<ellipse class="p" cx="925.5" cy="856.5" rx="5" ry="8.5" transform="rotate(-30 925.5 856.5)" />
<path class="pf" d="M262.7,1181 L359.9,1095 C361,1093 362,1092 362.7,1090.8 L369.7,1054.2 C370.5,1051.5 373,1050.5 375.5,1050.8 C379,1051.3 381.5,1053.5 381,1057 L374,1102 C373.5,1106 371,1109 368.3,1110.6 L268.3,1192.3 C266,1193.5 263,1193 261.5,1190.5 C259.5,1187.5 260,1183 262.7,1181 Z"/>
<path class="p" d="M362.7,1090.8 C366,1090 370,1092 372,1096 C374,1100 373.5,1104 372,1107" stroke-width="1"/>
<path class="p" d="M369.7,1054.2 C372,1056.5 377,1057.5 381,1057" stroke-width="0.9"/>
<ellipse class="p" cx="264.8" cy="1186.8" rx="3.8" ry="6" transform="rotate(35 264.8 1186.8)" />
<path class="pf" d="M266,1165 L266,1175 L272,1175 L272,1165 Z"/>
<ellipse class="pf" cx="269" cy="1165" rx="3" ry="1.3" />
<path class="pf" d="M264,1176 L275,1172 L277,1176 L267,1180 Z"/>
<path class="p" d="M266.5,1168.5 L271.5,1168.5 M266.5,1171 L271.5,1171"/>
<path class="pf" d="M533.2,1156 L534.9,1183 C530,1186 526,1189 523.1,1190 L514.6,1190 L514.6,1200 L523.1,1198.3 C535,1198 546,1194 548.4,1185 C550,1178 551.5,1165 551.8,1156 Z"/>
<path class="p" d="M523.5,1191 C524,1193 524,1196 523.1,1198.3 M534.9,1183 C538,1184 544,1185 548,1183.5 M537,1156 L537.5,1182"/>
<path class="pf" d="M439.4,1176.3 L487.6,1179.7 L487.6,1196.6 L440.3,1191.5 Z"/>
<ellipse class="pf" cx="441.5" cy="1183.9" rx="3.2" ry="7.7" />
<path class="p" d="M443.5,1177 C445.5,1180 445.5,1188 444,1191.5" stroke-width="0.8"/>
<path class="pf" d="M492,1171 C500,1169 508,1172 512,1176 L514.6,1182 L514.6,1203 C510,1208 503,1209 496,1207.5 L492,1205 Z"/>
<ellipse class="pf" cx="492" cy="1188.5" rx="4.3" ry="18" />
<path class="p" d="M495.5,1173 C498,1178 498.5,1198 496,1206 M509,1201.5 L510.5,1204" stroke-width="0.9"/>
<path class="pf" d="M524.8,1135.8 L573,1134.4 L579.7,1142.5 L590.7,1163.7 L631.3,1173.8 L631.3,1179.7 L630.4,1186.5 L620.3,1185.6 L583.1,1176.3 L568.7,1156.9 L524.8,1151.8 Z"/>
<path class="p" d="M524.8,1151.8 L524.8,1154 L568,1159 L582.5,1178.5 L620.3,1188 L630.4,1188.5 L630.4,1186.5 M620.3,1185.6 L620.3,1188"/>
<path class="p" d="M568.7,1154.4 L589,1166.2 L631.3,1176 M571,1152 L583,1174.5" stroke-width="0.9"/>
<ellipse class="p" cx="616.5" cy="1176.6" rx="3.6" ry="1.7" />
<path class="pf" d="M546.8,1080 L538.3,1145.1 C540,1148 550,1149 554.4,1146.8 L562,1080 Z"/>
<path class="pf" d="M546.5,1076 L546.5,1082 C549,1085 559,1085 562.7,1082 L562.7,1076 Z"/>
<ellipse class="pf" cx="554.6" cy="1076" rx="8.1" ry="3.2" />
<path class="p" d="M546.6,1080 C550,1082.5 559,1082.5 562.6,1080"/>
<ellipse class="p" cx="554.8" cy="1076" rx="4.6" ry="1.6" />
<path class="pf" d="M574.6,1135.8 L586.5,1101.1 L591.5,1105.4 L592.4,1108.7 L579.7,1142.5 Z"/>
<path class="p" d="M586.5,1101.1 L587.5,1104.5 L591.5,1105.4 M587.5,1104.5 L577,1139"/>
<path class="pf" d="M566.5,1141.5 C566,1139 568,1138 571,1138.5 L575,1140.5 L576.5,1144 Z"/>
<path class="pf" d="M507.9,1121.2 L510,1120.6 L524.8,1122.5 L526.5,1124 L526.5,1157.7 L524.8,1157 L508.8,1154 L507.9,1153 Z"/>
<path class="p" d="M510,1122 L510,1150.5 L524.8,1153 L524.8,1123 M510,1150.5 L508,1153"/>
<ellipse class="pf" cx="614.4" cy="1200.4" rx="11" ry="4.6" />
<ellipse class="p" cx="614.4" cy="1200.4" rx="5.5" ry="2.3" />
<path class="p" d="M603.4,1201 C605,1204 610,1205.5 614.4,1205.4 C619,1205.5 624,1204 625.3,1201"/>
<path class="pf" d="M623.7,1226.5 L619.05,1223.21 L609.75,1223.21 L605.1,1226.5 L605.1,1234.5 L609.75,1237.79 L619.05,1237.79 L623.7,1234.5 Z"/><path class="p" d="M623.7,1226.5 L619.05,1229.79 L609.75,1229.79 L605.1,1226.5 L609.75,1223.21 L619.05,1223.21 Z"/><path class="p" d="M619.05,1229.79 L619.05,1237.79"/><path class="p" d="M609.75,1229.79 L609.75,1237.79"/><ellipse class="p" cx="614.4" cy="1226.5" rx="4.19" ry="1.71" />
<path class="pf" d="M538.8,1255.3 C538.3,1254.5 540,1253 543,1253.2 L607.6,1268.8 C613,1269.5 618,1270.5 620,1275 L627.4,1371 L645,1375.2 C648,1376 650,1377.5 650.3,1379.4 L653.4,1406.5 C653,1410 650,1412 647.2,1411.7 L588.8,1398.1 C583,1395 579,1390 576.3,1375.2 L551.3,1369 C548,1368 546,1366.5 545,1364.8 Z"/>
<path class="p" d="M543,1253.5 L551,1366 M548,1258 L554,1366.5 M577,1262 L578,1268 M608,1270 L612,1272 L616,1370 L618,1374 M613,1272 L620,1275"/>
<path class="p" d="M599,1266 L608,1375 C609,1380 612,1385 617,1386 M595,1265.5 L603,1375 M617,1386 L627.4,1371"/>
<path class="p" d="M560,1370 L562,1340 M566,1372 L567,1345"/>
<path class="p" d="M556,1281 C560,1276 568,1273 576,1274 C586,1275 594,1280 597,1289 L601,1343 C600,1350 596,1354 590,1356 C582,1359 576,1358 570,1354 C565,1350 559,1343 557,1335 C555,1320 554,1295 556,1281 Z"/>
<path class="p" d="M559,1283 C563,1279 570,1277 577,1278 C585,1279 592,1284 594.5,1291 L598.5,1342" stroke-width="0.9"/>
<ellipse class="p" cx="581" cy="1306.8" rx="2.5" ry="2.2" />
<path class="p" d="M601.3,1382 C601,1389 605,1397 611,1399 C617,1400.5 621,1397 622,1391 C622,1385 618,1380 612,1379 C607,1378.5 602,1379 601.3,1382 Z"/>
<path class="p" d="M605,1384 C605,1390 608,1395 612,1396 C616,1396.5 618.5,1394 619,1390 C619,1385 616,1382 612,1381.5 C608,1381 605,1382 605,1384 Z" stroke-width="1.6"/>
<path class="p" d="M584,1377 L586,1389 C587,1391 590,1391 591,1389 L590,1378 M630,1376 L634,1398 C635,1400 638,1400 639,1398 L636,1377 M641,1378 L645,1404 C646,1405.5 648,1405.5 648.5,1404 L645.5,1379"/>
<ellipse class="pf" cx="525" cy="1342.8" rx="10" ry="14" transform="rotate(-20 525 1342.8)" />
<ellipse class="p" cx="525" cy="1342.8" rx="4.5" ry="6.5" transform="rotate(-20 525 1342.8)" />
<path class="p" d="M519,1330 C528,1327 535,1338 533,1350 C532,1354 529,1356.5 526,1356.5" stroke-width="1.4"/>
<g transform="rotate(-32 502 1356)">
<path class="pf" d="M491,1348.5 L494,1346 L507,1346 L507,1366 L494,1366 L491,1363.5 Z"/>
<path class="p" d="M491,1352 L507,1352 M491,1360 L507,1360"/>
<ellipse class="pf" cx="508" cy="1356" rx="3.5" ry="11"/>
<ellipse class="p" cx="508" cy="1356" rx="1.8" ry="6"/>
</g>
<path class="pf" d="M792.7,1202.4 C819,1188 848,1170 873,1157 L883.5,1157 L921.6,1171.8 L985,1157 C987.5,1158 988,1162 986,1164.4 L917.3,1180.2 L877.2,1164.4 C850,1178 822,1195 794.8,1209.8 C792,1209 791,1205 792.7,1202.4 Z"/>
<ellipse class="p" cx="793.4" cy="1206.1" rx="1.8" ry="3.8" transform="rotate(-30 793.4 1206.1)" />
<path class="pf" d="M797,1189 L797,1199 L801,1199 L801,1189 Z"/>
<ellipse class="pf" cx="799" cy="1189" rx="2" ry="1" />
<path class="pf" d="M795,1200 L803,1197 L805,1200 L797,1203 Z"/>
<path class="pf" d="M980,1170 L981,1182 L986,1182.5 L985,1170 Z"/>
<ellipse class="pf" cx="982.5" cy="1169.5" rx="2.6" ry="1.2" />
<path class="p" d="M980.5,1174 L985.5,1174 M980.5,1177 L985.5,1177"/>
<path class="pf" d="M1031.3,1223.1 L1035.9,1246.3 C1039,1258 1045,1266 1053,1268 L1074.6,1274.2 L1077.7,1258.7 L1059.2,1254 C1056,1252 1054,1250 1053,1246.3 L1047.5,1218.5 Z"/>
<path class="p" d="M1036,1247 C1040,1244.5 1048,1243.5 1053,1245.5 M1057,1254 C1054.5,1258 1054,1264 1055,1268.5" stroke-width="0.9"/>
<path class="pf" d="M1095,1261 L1152,1277.3 L1143,1293 L1095,1281 Z"/>
<ellipse class="pf" cx="1147.5" cy="1285.2" rx="6.5" ry="8.6" transform="rotate(-12 1147.5 1285.2)" />
<path class="p" d="M1142,1277 C1139,1281 1139,1289 1141.5,1293.5 M1144,1276.5 C1141.5,1281 1141.5,1289 1143.5,1293.5" stroke-width="0.9"/>
<path class="pf" d="M1081.6,1250.3 L1094,1251 L1094,1290.4 L1081.6,1289.7 Z"/>
<ellipse class="pf" cx="1094" cy="1270.7" rx="9.5" ry="19.7" transform="rotate(-5 1094 1270.7)" />
<ellipse class="p" cx="1094" cy="1270.7" rx="7" ry="16.5" transform="rotate(-5 1094 1270.7)" />
<ellipse class="pf" cx="1081.6" cy="1270" rx="7" ry="19.7" transform="rotate(-5 1081.6 1270)" />
<ellipse class="p" cx="1081.6" cy="1270" rx="5" ry="16.5" transform="rotate(-5 1081.6 1270)" />
<path class="pf" d="M1012.4,1137 L1027.2,1208.7 L1044.1,1206.6 L1028.3,1133.7 Z"/>
<ellipse class="pf" cx="1019.8" cy="1132.7" rx="8.4" ry="3.6" transform="rotate(-10 1019.8 1132.7)" />
<path class="p" d="M1012.6,1138.5 C1017,1141 1024,1140 1028.6,1136.5" stroke-width="1.8"/>
<path class="p" d="M1012.4,1137 L1011.4,1132.8 M1028.3,1133.7 L1028.2,1131"/>
<path class="pf" d="M1036.7,1157.5 L1052,1153.8 L1058.8,1191 L1051,1195.5 L1044,1196.6 Z"/>
<path class="p" d="M1040.2,1157 L1047.5,1195"/>
<path class="pf" d="M977.5,1219.3 L1001.8,1213 L1006,1214 L1020,1208 L1031,1206 L1044,1204 L1058,1196 L1065.2,1200.3 L1065.2,1204.5 C1055,1212 1040,1220 1029.3,1223.5 L1004,1225.6 L978.6,1223.5 Z"/>
<path class="p" d="M978.6,1223.5 L1001,1220 L1004,1225.6 M1001,1220 L1006,1214 M1029.3,1223.5 L1031,1219 C1042,1214 1055,1207 1065.2,1200.3"/>
<ellipse class="p" cx="992" cy="1217.8" rx="3.2" ry="1.4" />
<path class="pf" d="M996.6,1187.6 L1002.9,1186.6 L1023,1221.4 L1017,1222.5 Z"/>
<path class="p" d="M1000,1187 L1019,1222"/>
<ellipse class="pf" cx="1004.8" cy="1277" rx="10.5" ry="4.6" />
<ellipse class="p" cx="1004.8" cy="1277" rx="5.2" ry="2.2" />
<path class="p" d="M994.3,1277.5 C996,1280.5 1000,1281.8 1004.8,1281.8 C1009.5,1281.8 1013.5,1280.5 1015.3,1277.5"/>
<path class="pf" d="M1021,1308 L1016.5,1304.71 L1007.5,1304.71 L1003,1308 L1003,1317 L1007.5,1320.29 L1016.5,1320.29 L1021,1317 Z"/><path class="p" d="M1021,1308 L1016.5,1311.29 L1007.5,1311.29 L1003,1308 L1007.5,1304.71 L1016.5,1304.71 Z"/><path class="p" d="M1016.5,1311.29 L1016.5,1320.29"/><path class="p" d="M1007.5,1311.29 L1007.5,1320.29"/><ellipse class="p" cx="1012" cy="1308" rx="4.05" ry="1.71" />
<path class="th2" d="M1262.7,1379.6 C1250,1382 1235,1378 1220.4,1373.4 C1210,1371 1200,1366 1192.3,1360.2 C1184,1350 1181,1340 1181.7,1332 L1181.7,1296.8 C1183,1285 1188,1274 1195.8,1265.1 C1203,1253 1210,1245 1217.8,1240.5 M1232.7,1234.3 C1240,1234 1245,1235 1250.4,1237 C1256,1239 1261,1240.5 1266.2,1242.3 C1275,1245 1283,1247 1290.8,1250.2"/>
<path class="th2" d="M1301.4,1263.4 C1305,1272 1307,1280 1306.7,1288 C1307,1298 1307,1306 1305.8,1314.4 C1304,1322 1302,1330 1299.6,1337.3 C1296,1345 1293,1350 1289.1,1354.9 C1285,1361 1281,1366 1276.8,1370.8"/>
<path class="th2" d="M1252.1,1256.3 C1244,1265 1237,1274 1232.7,1282.7 C1227,1295 1224,1305 1223.9,1314.4 L1223.9,1349.6 C1224.5,1355 1226,1360 1228.3,1364.6"/>
<ellipse class="th2" cx="1266" cy="1315.7" rx="28" ry="55" transform="rotate(-6 1266 1315.7)" />
<ellipse class="th2" cx="1267" cy="1318" rx="22" ry="46" transform="rotate(-6 1267 1318)" />
<ellipse class="th2" cx="1268" cy="1320" rx="16" ry="36" transform="rotate(-6 1268 1320)" />
<ellipse class="pf" cx="1168.4" cy="1288.5" rx="8" ry="13.7" transform="rotate(-10 1168.4 1288.5)" />
<ellipse class="p" cx="1168.4" cy="1288.5" rx="4.2" ry="7.5" transform="rotate(-10 1168.4 1288.5)" />
<ellipse class="pf" cx="1321.2" cy="1328" rx="9.2" ry="13.6" transform="rotate(-10 1321.2 1328)" />
<ellipse class="p" cx="1321.2" cy="1328" rx="5" ry="8.4" transform="rotate(-10 1321.2 1328)" />
<ellipse class="pf" cx="1344.1" cy="1334.7" rx="11.9" ry="18.5" transform="rotate(-10 1344.1 1334.7)" />
<ellipse class="p" cx="1344.1" cy="1334.7" rx="7" ry="11" transform="rotate(-10 1344.1 1334.7)" />
<path class="p" d="M1336,1320 C1333,1328 1333,1345 1338,1352" stroke-width="0.9"/>
<path class="pf" d="M1360.4,1340.8 C1361,1333 1365,1327 1370,1326.8 C1375,1326.5 1378.9,1328 1378.9,1332 L1378.9,1344.4 C1377,1346 1375.5,1345 1375.5,1343 L1375,1333 C1373,1330.5 1368,1331 1366,1334 C1364,1337 1363.5,1340 1363,1342 Z"/>
<path class="pf" d="M1358.6,1344 C1358,1350 1360,1356 1363,1356.7 C1366,1357 1366.5,1352 1365.7,1346 C1364.5,1342 1359.5,1341 1358.6,1344 Z"/>
<path class="p" d="M1371,1328 C1373.5,1331 1374,1337 1373,1343"/>
</g>
<g id="dashed">
<path class="d" d="M143.75,216 L158.75,256" style="stroke-dasharray:9 4 2 4"/>
<path class="d" d="M165,284 L182.5,331" style="stroke-dasharray:9 4 2 4"/>
<path class="d" d="M252.5,635 L282.5,616"/>
<path class="d" d="M297.5,648.75 L303.75,662.5"/>
<path class="l" d="M311,680 L314,690"/>
<path class="d" d="M350,662.5 C349,675 343,685 333.75,692.5"/>
<path class="l" d="M290,686 L290,700"/>
<path class="d" d="M320,721.7 C326,735 327,760 322.6,782.4 C320,805 316,830 314.7,848.4"/>
<path class="d" d="M365,702 L366,745"/>
<path class="d" d="M371,767 L372.5,812"/>
<path class="d" d="M446,725 L462,728"/>
<path class="d" d="M443,724 L443,872.5"/>
<path class="d" d="M121,790 L141,795"/>
<path class="d" d="M165,805 L197,815"/>
<path class="d" d="M236,757 L262,766"/>
<path class="d" d="M501,825 L512.5,830"/>
<path class="d" d="M482,815 L495,822"/>
<path class="d" d="M280,939 C278,1000 272,1040 271.1,1068.3 C269,1110 267,1140 266.9,1158.5"/>
<path class="d" d="M425.4,966 L426,969.7 C424,1000 423,1020 421.8,1034.5 C415,1070 408,1100 402.1,1133.1 C390,1180 375,1220 365.5,1250 C360,1275 357,1300 356.6,1302.3 L350.1,1370.4 L657.6,1444 C675,1435 690,1420 711.8,1400.2 C725,1380 733,1360 736.8,1337.7 C742,1300 746,1280 746.2,1254.3 L745.5,1191.7 C745,1170 746,1155 750.5,1148.5 C755,1140 762,1136 767.7,1136.4 C780,1137 788,1145 792,1160 C796,1172 797,1185 797,1200.3"/>
<path class="d" d="M374,1102 C375,1115 378,1128 390.8,1136 C398,1138 403,1136 407.7,1134.5 C425,1125 445,1112 461.3,1102 C480,1088 500,1070 517.6,1059.9 C530,1050 545,1042 557,1040 L568.3,1040 C580,1043 590,1048 596.5,1057 C604,1066 608,1075 610.6,1085.2 C614,1100 616,1110 616.2,1119 L617.6,1172"/>
<path class="l" d="M560,1027 L558,1040.7 M554,1040.7 L569,1040.7"/>
<path class="d" d="M557.7,1042 L555,1073.8"/>
<path class="d" d="M683.1,1018.9 C665,1032 652,1045 649.3,1056.9 C647,1068 647,1082 650.7,1092.1 C655,1102 670,1118 683.1,1137.2 C692,1150 700,1163 703.5,1177 C705,1195 700,1215 691,1227 C683,1240 675,1248 666,1254.3 C650,1266 635,1278 622.2,1287.6"/>
<path class="d" d="M880,884.5 L812.6,932.8"/>
<path class="d" d="M719.4,996.7 L778,955.3"/>
<path class="l" d="M590,780 L590,792.5 M587.5,802.5 L587,815 M583.75,830 L583.5,845 M581,866 L580.5,881"/>
<path class="l" d="M955,880 L957,891.4 M959.4,896 L961,911.7 M967.3,925.2 L968,934.2 M976.3,960 L978,973.7"/>
<path class="l" d="M1003.4,1061.6 L1003.6,1070.6 M1007.9,1083 L1008.2,1093"/>
<path class="l" d="M566.5,960 L566,972 M564,990 L563,1005"/>
<path class="d" d="M985.5,1184 L992,1214"/>
<path class="d" d="M996.4,1229 L1004.5,1266"/>
<path class="d" d="M1006.4,1273.2 L1009.6,1299"/>
<path class="l" d="M616.3,1181.3 L616.3,1198 M616,1204 L616,1221"/>
<path class="d" d="M489.4,1365.5 L580,1308.8"/>
<path class="d" d="M1176,1290 L1186,1292.5"/>
<path class="d" d="M1241.3,1307.2 L1312.5,1325"/>
<path class="d" d="M1330,1320 L1370,1333"/>

</g>
<g id="leaders">
<path class="l" d="M138,56.4 L124.5,108.5"/>
<path class="l" d="M151,205 L219.7,138.6"/>
<path class="l" d="M178.75,257.5 L274.5,203.6"/>
<path class="l" d="M303.5,287.1 L417.4,277"/>
<path class="l" d="M202.5,455 L185,479"/>
<path class="l" d="M216,551 L251,536"/>
<path class="l" d="M328.75,566 L315,667.5"/>
<path class="l" d="M382.5,577.5 L355,629"/>
<path class="l" d="M238.75,691 L283.75,662.5"/>
<path class="l" d="M411,634 L341,701"/>
<path class="l" d="M198.75,627.5 L227.5,651"/>
<path class="l" d="M140,654 L111,786"/>
<path class="l" d="M163.75,652.5 L210,750"/>
<path class="l" d="M155,745 L162.5,782.5"/>
<path class="l" d="M392.5,704 L376,750"/>
<path class="l" d="M525,690 L487.5,730"/>
<path class="l" d="M525,690 L533.75,827.5"/>
<path class="l" d="M210.4,919.7 L232.8,853.7"/>
<path class="l" d="M293.6,901 L313.4,899.4"/>
<path class="l" d="M421.6,892 L393.9,901.3"/>
<path class="l" d="M440,922.4 L486.3,907"/>
<path class="l" d="M323.2,993.7 L333.1,966.9"/>
<path class="l" d="M348.6,1047.2 L375.4,1019"/>
<path class="l" d="M671,724 L602.5,764"/>
<path class="l" d="M659,771 L598.75,792.5"/>
<path class="l" d="M701,791 L602.5,819"/>
<path class="l" d="M651,844 L592.5,851"/>
<path class="l" d="M731,862.5 L715,919"/>
<path class="l" d="M805.7,851.8 L829.9,893.2"/>
<path class="l" d="M881.4,809.6 L916.3,855"/>
<path class="l" d="M1009.2,828.6 L960.6,863.5"/>
<path class="l" d="M1006,865.6 L964.9,885.6"/>
<path class="l" d="M1077.9,861.3 L977.5,906.8"/>
<path class="l" d="M1033.8,932 L982,939.9"/>
<path class="l" d="M576,983.7 L613.4,1009.7"/>
<path class="l" d="M574.6,1020.3 L626,1032.3"/>
<path class="l" d="M748.8,1048.4 L716,1024.3"/>
<path class="l" d="M1016,1067.5 L1064.7,1069"/>
<path class="l" d="M1022.6,1101.5 L1082.5,1093.4"/>
<path class="l" d="M459.9,1137.3 L507.7,1143"/>
<path class="l" d="M574,1214.8 L606.3,1199.3"/>
<path class="l" d="M649.8,1202 L622.2,1221.4"/>
<path class="l" d="M305,1203.5 L309.2,1157"/>
<path class="l" d="M892,1233 L900.6,1174.4"/>
<path class="l" d="M1059.9,1176 L1106.8,1177.6"/>
<path class="l" d="M962.7,1274.8 L995,1278"/>
<path class="l" d="M974,1331.5 L1006.4,1313.7"/>
<path class="l" d="M1126.3,1341.2 L1161.9,1302.3"/>
<path class="l" d="M1348.2,1229.5 L1327.1,1315.3"/>
<path class="l" d="M1327.1,1385 L1341.7,1354.2"/>
<path class="l" d="M1369.2,1266.7 L1375.7,1326.6"/>
<path class="l" d="M486.2,1286.2 L517,1329.9"/>
<path class="l" d="M455.4,1340.6 L496,1351"/>
<path class="l" d="M626.3,1321 L656.6,1316.8"/>

</g>
<g class="lab" opacity="0.999">
<text transform="translate(133.06,50.87) scale(1.075,1)" font-size="22.82">26</text>
<text transform="translate(222.23,136.84) scale(0.861,1)" font-size="26.00">51</text>
<text transform="translate(276.45,203.84) scale(1.050,1)" font-size="26.14">45</text>
<text transform="translate(418.89,283.20) scale(0.800,1)" font-size="26.52">1</text>
<text transform="translate(159.32,503.75) scale(0.905,1)" font-size="25.00">21</text>
<text transform="translate(187.23,560.38) scale(1.092,1)" font-size="22.39">16</text>
<text transform="translate(321.03,560.38) scale(1.092,1)" font-size="22.39">13</text>
<text transform="translate(377.50,572.68) scale(1.046,1)" font-size="22.39">28</text>
<text transform="translate(409.22,631.00) scale(0.903,1)" font-size="25.14">22</text>
<text transform="translate(172.02,630.80) scale(1.119,1)" font-size="19.72">64</text>
<text transform="translate(136.53,650.79) scale(1.149,1)" font-size="21.13">63</text>
<text transform="translate(212.72,701.18) scale(1.023,1)" font-size="22.25">28</text>
<text transform="translate(389.14,698.77) scale(1.064,1)" font-size="22.54">60</text>
<text transform="translate(140.28,740.79) scale(1.122,1)" font-size="21.43">57</text>
<text transform="translate(515.27,685.40) scale(1.200,1)" font-size="19.86">63</text>
<text transform="translate(671.65,722.29) scale(1.200,1)" font-size="21.13">9</text>
<text transform="translate(660.31,773.80) scale(1.166,1)" font-size="19.72">8</text>
<text transform="translate(704.15,795.22) scale(0.965,1)" font-size="22.06">7</text>
<text transform="translate(653.58,845.79) scale(1.121,1)" font-size="21.13">118</text>
<text transform="translate(726.03,860.60) scale(1.154,1)" font-size="22.29">2</text>
<text transform="translate(780.72,853.28) scale(1.125,1)" font-size="21.83">67</text>
<text transform="translate(855.37,805.80) scale(1.200,1)" font-size="19.72">66</text>
<text transform="translate(1010.04,829.49) scale(1.200,1)" font-size="20.70">9</text>
<text transform="translate(1007.71,866.41) scale(1.200,1)" font-size="19.01">8</text>
<text transform="translate(1077.95,863.41) scale(1.110,1)" font-size="21.47">7</text>
<text transform="translate(1036.92,933.99) scale(1.117,1)" font-size="20.56">118</text>
<text transform="translate(190.69,939.38) scale(0.973,1)" font-size="22.39">19</text>
<text transform="translate(313.29,906.50) scale(1.041,1)" font-size="22.57">122</text>
<text transform="translate(422.28,898.38) scale(1.080,1)" font-size="22.25">59</text>
<text transform="translate(484.84,909.20) scale(1.074,1)" font-size="22.71">122</text>
<text transform="translate(301.55,1015.98) scale(1.037,1)" font-size="21.83">35</text>
<text transform="translate(321.07,1063.78) scale(1.115,1)" font-size="21.69">58</text>
<text transform="translate(614.06,1021.48) scale(1.103,1)" font-size="21.83">118</text>
<text transform="translate(624.96,1044.38) scale(1.185,1)" font-size="21.97">6</text>
<text transform="translate(754.70,1065.48) scale(1.133,1)" font-size="22.11">67</text>
<text transform="translate(1064.64,1074.79) scale(1.200,1)" font-size="20.56">6</text>
<text transform="translate(1084.22,1101.78) scale(1.041,1)" font-size="22.11">118</text>
<text transform="translate(445.38,1144.40) scale(0.941,1)" font-size="22.46">4</text>
<text transform="translate(1109.54,1183.79) scale(1.200,1)" font-size="20.71">5</text>
<text transform="translate(288.53,1224.38) scale(0.989,1)" font-size="21.97">61</text>
<text transform="translate(547.31,1224.60) scale(0.948,1)" font-size="22.61">14</text>
<text transform="translate(651.05,1199.79) scale(1.076,1)" font-size="20.86">15</text>
<text transform="translate(875.56,1248.41) scale(1.200,1)" font-size="19.44">62</text>
<text transform="translate(938.80,1281.30) scale(0.945,1)" font-size="21.16">14</text>
<text transform="translate(948.36,1345.77) scale(0.968,1)" font-size="23.00">15</text>
<text transform="translate(1097.26,1355.57) scale(1.054,1)" font-size="22.82">13</text>
<text transform="translate(1341.95,1225.99) scale(1.093,1)" font-size="20.56">13</text>
<text transform="translate(1360.64,1263.30) scale(1.200,1)" font-size="20.42">8</text>
<text transform="translate(1307.08,1404.19) scale(1.200,1)" font-size="20.56">53</text>
<text transform="translate(457.69,1284.27) scale(1.102,1)" font-size="22.82">69</text>
<text transform="translate(425.37,1344.27) scale(1.024,1)" font-size="22.82">68</text>
<text transform="translate(664.03,1322.80) scale(1.188,1)" font-size="20.42">70</text>
</g>
<g opacity="0.999"><text x="70.6" y="1427.6" font-family="Liberation Sans, sans-serif" font-size="18" textLength="230.3" lengthAdjust="spacing" fill="#000">steering-tex_STDSRR_23</text></g>
<g id="wm">
<defs>
<mask id="logoMask" maskUnits="userSpaceOnUse" x="0" y="0" width="1420" height="1487">
<path fill="#fff" d="M233,337.6 L342,337.6 Q359.7,337.6 368,352 L412,433 Q419.6,447.9 412,462 L368,544 Q359.7,558.2 342,558.2 L235,558.2 Q217,558.2 209,544 L174,462 Q166.7,447.9 174,433 L207,352 Q215.1,337.6 233,337.6 Z"/>
<path fill="#000" d="M241.5,393 C240.5,385 246,377 255,376.5 C261,376.5 265,379 267,382.8 L291,426 L312.5,390.4 C315,385.5 320,383.5 326,384 C334,385 338,392 336,398 L313.8,440.1 L368.3,441.4 C374,442 377.5,448 377.2,454 C377,461 373,466.5 368.3,466.8 L298.6,468 L279.6,502.3 L334,502.9 C339,503.5 342,509 341.7,516.2 C341.5,523 338,528.5 334,528.9 L255,528.9 C249,528.5 245.5,523 247.5,516 L274.5,452.8 Z"/>
</mask>
</defs>
<g opacity="0.27" fill="#d7d7d7">
<rect x="0" y="0" width="1420" height="1487" mask="url(#logoMask)"/>
<text transform="translate(400,592) rotate(31)" x="0 165 278 376 480 560 672 781" y="0" font-family="Liberation Sans, sans-serif" font-weight="bold" font-size="250" stroke="#d7d7d7" stroke-width="6" stroke-linejoin="round">Strejček</text>
</g>
<text transform="translate(850,930) rotate(32)" font-family="Liberation Sans, sans-serif" font-size="62" fill="none" stroke="#d7d7d7" stroke-opacity="0.35" stroke-width="2" textLength="340" lengthAdjust="spacing">GARDEN</text>

</g>
</svg>
</body></html>
